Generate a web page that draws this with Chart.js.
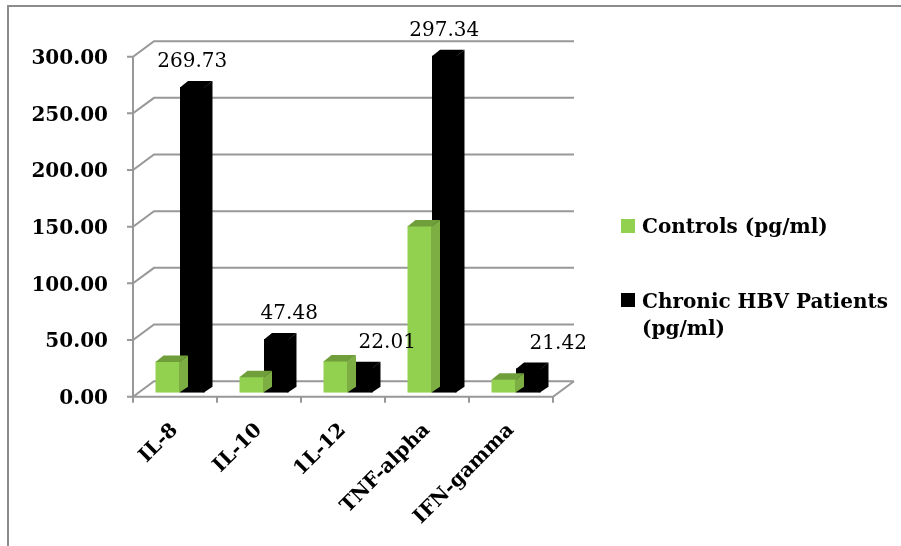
<!DOCTYPE html>
<html>
<head>
<meta charset="utf-8">
<title>Cytokine levels</title>
<script src="https://cdn.jsdelivr.net/npm/chart.js@4.4.1/dist/chart.umd.min.js"></script>
<style>
  html, body { margin: 0; padding: 0; background: #fff; }
  #wrap { position: relative; width: 901px; height: 546px; overflow: hidden; background: #fff; }
  #frame { position: absolute; left: 7px; top: 5px; width: 1000px; height: 1000px; border: 2px solid #8c8c8c; }
  #chart { position: absolute; left: 0; top: 0; }
  .lg-box { position: absolute; width: 14px; height: 14px; }
  .lg-txt { position: absolute; left: 642px; font: bold 20px "DejaVu Serif"; line-height: 27px; color: #000; white-space: nowrap; }
</style>
</head>
<body>
<div id="wrap">
  <div id="frame"></div>
  <canvas id="chart" width="901" height="546"></canvas>
  <div class="lg-box" style="left:621px; top:219px; background:#92d050;"></div>
  <div class="lg-txt" style="top:213px;">Controls (pg/ml)</div>
  <div class="lg-box" style="left:621px; top:293px; background:#000;"></div>
  <div class="lg-txt" style="top:288px;">Chronic HBV Patients<br>(pg/ml)</div>
</div>
<script>
// chart data
const categories = ['IL-8', 'IL-10', '1L-12', 'TNF-alpha', 'IFN-gamma'];
const controls = [27.6, 14.1, 27.9, 147.0, 11.8];
const patients = [269.73, 47.48, 22.01, 297.34, 21.42];
const yMin = 0;
const yMax = 300;
const yStep = 50;

// fake 3d look: front floor edge, back wall, bar depth
const FRONT = { dx: -5, dy: 4 };
const BACK = { dx: 16, dy: -11.5 };
const DEPTH = { dx: 8, dy: 6 };
const GRID_COLOR = '#989898';
// where Excel put the value labels relative to the bar
const labelShift = [0, 13, 27, 0, 30];

const wallPlugin = {
    id: 'wall',
    beforeDatasetsDraw(chart) {
        const ctx = chart.ctx;
        const y = chart.scales.y;
        const x = chart.scales.x;
        const { left, right, top, bottom } = chart.chartArea;
        ctx.save();
        ctx.strokeStyle = GRID_COLOR;
        ctx.lineWidth = 2;
        ctx.beginPath();
        y.ticks.forEach(t => {
            const py = y.getPixelForValue(t.value);
            ctx.moveTo(left + FRONT.dx - 6, py + FRONT.dy);
            ctx.lineTo(left + FRONT.dx, py + FRONT.dy);
            ctx.lineTo(left + BACK.dx, py + BACK.dy);
            ctx.lineTo(right + BACK.dx, py + BACK.dy);
        });
        // front vertical axis
        ctx.moveTo(left + FRONT.dx, top + FRONT.dy);
        ctx.lineTo(left + FRONT.dx, bottom + FRONT.dy);
        // front floor edge and right floor edge
        ctx.lineTo(right + FRONT.dx, bottom + FRONT.dy);
        ctx.lineTo(right + BACK.dx, bottom + BACK.dy);
        // category tick marks
        for (let i = 0; i <= categories.length; i++) {
            const px = x.getPixelForValue(i - 0.5) + FRONT.dx;
            ctx.moveTo(px, bottom + FRONT.dy);
            ctx.lineTo(px, bottom + FRONT.dy + 6);
        }
        ctx.stroke();
        ctx.restore();
    },
    afterDatasetDraw(chart, args) {
        const ctx = chart.ctx;
        const ds = chart.data.datasets[args.index];
        ctx.save();
        args.meta.data.forEach(bar => {
            const { x, y, base, width } = bar.getProps(['x', 'y', 'base', 'width'], true);
            const l = x - width / 2, r = x + width / 2;
            // side face, overlapping the front a little so no seam shows
            ctx.fillStyle = ds.sideColor;
            ctx.beginPath();
            ctx.moveTo(r - 1, y + 1);
            ctx.lineTo(r + DEPTH.dx, y - DEPTH.dy);
            ctx.lineTo(r + DEPTH.dx, base - DEPTH.dy);
            ctx.lineTo(r - 1, base);
            ctx.closePath();
            ctx.fill();
            ctx.fillStyle = ds.topColor;
            ctx.beginPath();
            ctx.moveTo(l, y + 0.5);
            ctx.lineTo(l + DEPTH.dx, y - DEPTH.dy);
            ctx.lineTo(r + DEPTH.dx, y - DEPTH.dy);
            ctx.lineTo(r, y + 0.5);
            ctx.closePath();
            ctx.fill();
        });
        ctx.restore();
    },
    afterDatasetsDraw(chart) {
        const ctx = chart.ctx;
        const meta = chart.getDatasetMeta(1);
        ctx.save();
        ctx.font = '20px "DejaVu Serif"';
        ctx.fillStyle = '#000';
        ctx.textAlign = 'center';
        ctx.textBaseline = 'middle';
        meta.data.forEach((bar, i) => {
            ctx.fillText(patients[i].toFixed(2), bar.x + labelShift[i], bar.y - 25);
        });
        ctx.restore();
    }
};

const ctx = document.getElementById('chart');
new Chart(ctx, {
    type: 'bar',
    data: {
        labels: categories,
        datasets: [
            {
                label: 'Controls (pg/ml)',
                data: controls,
                backgroundColor: '#92d050',
                topColor: '#6f9e3b',
                sideColor: '#7cae43',
                categoryPercentage: 0.583,
                barPercentage: 1.0
            },
            {
                label: 'Chronic HBV Patients (pg/ml)',
                data: patients,
                backgroundColor: '#000000',
                topColor: '#000000',
                sideColor: '#000000',
                categoryPercentage: 0.583,
                barPercentage: 1.0
            }
        ]
    },
    options: {
        responsive: false,
        animation: false,
        layout: { padding: { left: 0, top: 52.7, right: 343, bottom: 0 } },
        plugins: {
            legend: { display: false },
            tooltip: { enabled: false }
        },
        scales: {
            x: {
                grid: { display: false, drawTicks: false },
                border: { display: false },
                ticks: {
                    autoSkip: false,
                    minRotation: 45,
                    maxRotation: 45,
                    padding: 26,
                    labelOffset: -5,
                    color: '#000',
                    font: { family: 'DejaVu Serif', size: 20, weight: 'bold' }
                },
                afterFit(scale) { scale.height = 546 - 392.7; }
            },
            y: {
                min: yMin,
                max: yMax,
                grid: { display: false, drawTicks: false },
                border: { display: false },
                ticks: {
                    stepSize: yStep,
                    padding: 30,
                    labelOffset: 6,
                    color: '#000',
                    font: { family: 'DejaVu Serif', size: 20, weight: 'bold' },
                    callback: v => v.toFixed(2)
                },
                afterFit(scale) { scale.width = 138; }
            }
        }
    },
    plugins: [wallPlugin]
});
</script>
</body>
</html>
